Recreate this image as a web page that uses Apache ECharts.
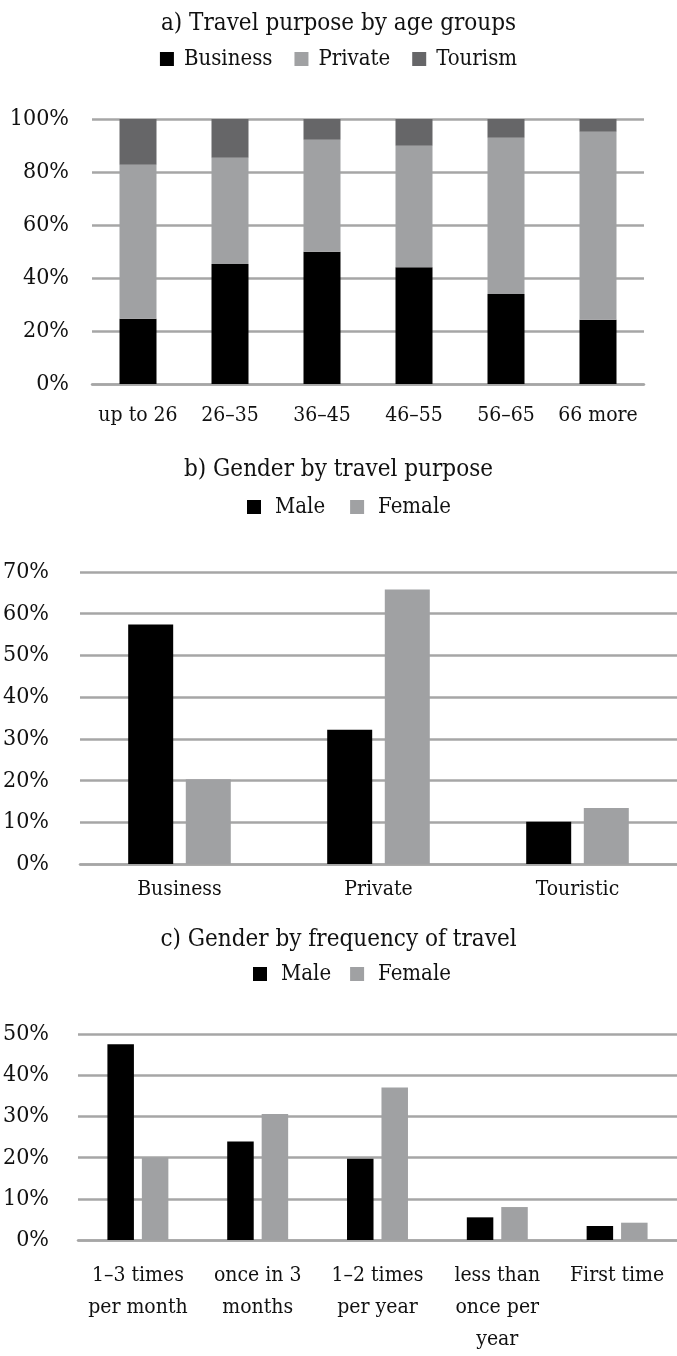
<!DOCTYPE html>
<html>
<head>
<meta charset="utf-8">
<script src="https://cdn.jsdelivr.net/npm/echarts@6/dist/echarts.min.js"></script>
<style>
  html, body { margin: 0; padding: 0; background: #fff; }
  #chart { width: 677px; height: 1356px; }
</style>
</head>
<body>
<div id="chart"></div>
<script>
// a) Travel purpose by age groups (shares in %)
const ageGroups = ['up to 26', '26–35', '36–45', '46–55', '56–65', '66 more'];
const businessByAge = [24.6, 45.3, 49.9, 44.1, 34.0, 24.2];
const privateByAge = [58.1, 40.1, 42.3, 45.8, 58.9, 71.0];
const tourismByAge = [17.3, 14.6, 7.8, 10.1, 7.1, 4.8];

// b) Gender by travel purpose (%)
const purposes = ['Business', 'Private', 'Touristic'];
const maleByPurpose = [57.4, 32.2, 10.1];
const femaleByPurpose = [20.3, 65.8, 13.4];

// c) Gender by frequency of travel (%)
const frequencies = ['1–3 times\nper month', 'once in 3\nmonths', '1–2 times\nper year', 'less than\nonce per\nyear', 'First time'];
const maleByFrequency = [47.5, 23.9, 19.7, 5.5, 3.4];
const femaleByFrequency = [20.0, 30.6, 37.0, 8.0, 4.2];

// value-axis tick settings per panel
const axisMax = [100, 70, 50];
const axisStep = [20, 10, 10];

const FONT = '"DejaVu Serif Condensed", "DejaVu Serif", serif';
const TEXT = '#111111';
const GRID_LINE = '#a6a6a6';
const C_BLACK = '#000000';
const C_LIGHT = '#a0a1a3';
const C_DARK = '#666668';

const chart = echarts.init(document.getElementById('chart'), null, { renderer: 'canvas' });

function valueAxis(idx, labelMargin) {
  return {
    type: 'value', gridIndex: idx, min: 0, max: axisMax[idx], interval: axisStep[idx],
    axisLine: { show: false }, axisTick: { show: false },
    splitLine: { lineStyle: { color: GRID_LINE, width: 2.5 } },
    axisLabel: { formatter: '{value}%', color: TEXT, fontFamily: FONT, fontSize: 23, margin: labelMargin }
  };
}
function catAxis(idx, data, margin, lineHeight) {
  return {
    type: 'category', gridIndex: idx, data: data,
    axisLine: { show: true, lineStyle: { color: GRID_LINE, width: 2.5 } },
    axisTick: { show: false },
    axisLabel: { color: TEXT, fontFamily: FONT, fontSize: 21, margin: margin, lineHeight: lineHeight, interval: 0 }
  };
}
const titleStyle = { color: TEXT, fontFamily: FONT, fontSize: 24, fontWeight: 'normal' };
const legendStyleA = { color: TEXT, fontFamily: FONT, fontSize: 22, padding: [0, 0, 0, 5] };
const legendStyleB = { color: TEXT, fontFamily: FONT, fontSize: 22, padding: [0, 0, 0, 9] };

chart.setOption({
  animation: false,
  backgroundColor: '#ffffff',
  title: [
    { text: 'a) Travel purpose by age groups', left: 'center', top: 12, padding: 0, textStyle: titleStyle },
    { text: 'b) Gender by travel purpose', left: 'center', top: 458, padding: 0, textStyle: titleStyle },
    { text: 'c) Gender by frequency of travel', left: 'center', top: 928, padding: 0, textStyle: titleStyle }
  ],
  legend: [
    { data: ['Business', 'Private', 'Tourism'], left: 'center', top: 48, padding: 0, itemWidth: 14, itemHeight: 14, itemGap: 22, icon: 'rect', textStyle: legendStyleA },
    { data: ['Male', 'Female'], left: 247, top: 496, padding: 0, itemWidth: 14, itemHeight: 14, itemGap: 25, icon: 'rect', textStyle: legendStyleB },
    { data: ['Male', 'Female'], left: 253, top: 963, padding: 0, itemWidth: 14, itemHeight: 14, itemGap: 19, icon: 'rect', textStyle: legendStyleB }
  ],
  grid: [
    { left: 92, right: 33, top: 119, height: 265 },
    { left: 76, right: 0, top: 572, height: 292 },
    { left: 74, right: 0, top: 1034, height: 215 }
  ],
  xAxis: [
    catAxis(0, ageGroups, 21, 22),
    catAxis(1, purposes, 15, 22),
    catAxis(2, frequencies, 20, 32)
  ],
  yAxis: [
    valueAxis(0, 23),
    valueAxis(1, 31),
    valueAxis(2, 29)
  ],
  series: [
    { name: 'Business', type: 'bar', stack: 'age', xAxisIndex: 0, yAxisIndex: 0, data: businessByAge, barWidth: 37, itemStyle: { color: C_BLACK } },
    { name: 'Private', type: 'bar', stack: 'age', xAxisIndex: 0, yAxisIndex: 0, data: privateByAge, barWidth: 37, itemStyle: { color: C_LIGHT } },
    { name: 'Tourism', type: 'bar', stack: 'age', xAxisIndex: 0, yAxisIndex: 0, data: tourismByAge, barWidth: 37, itemStyle: { color: C_DARK } },

    { name: 'Male', type: 'bar', xAxisIndex: 1, yAxisIndex: 1, data: maleByPurpose, barWidth: 45, barGap: '28%', itemStyle: { color: C_BLACK } },
    { name: 'Female', type: 'bar', xAxisIndex: 1, yAxisIndex: 1, data: femaleByPurpose, barWidth: 45, barGap: '28%', itemStyle: { color: C_LIGHT } },

    { name: 'Male', type: 'bar', xAxisIndex: 2, yAxisIndex: 2, data: maleByFrequency, barWidth: 26.5, barGap: '30%', itemStyle: { color: C_BLACK } },
    { name: 'Female', type: 'bar', xAxisIndex: 2, yAxisIndex: 2, data: femaleByFrequency, barWidth: 26.5, barGap: '30%', itemStyle: { color: C_LIGHT } }
  ]
});
</script>
</body>
</html>
